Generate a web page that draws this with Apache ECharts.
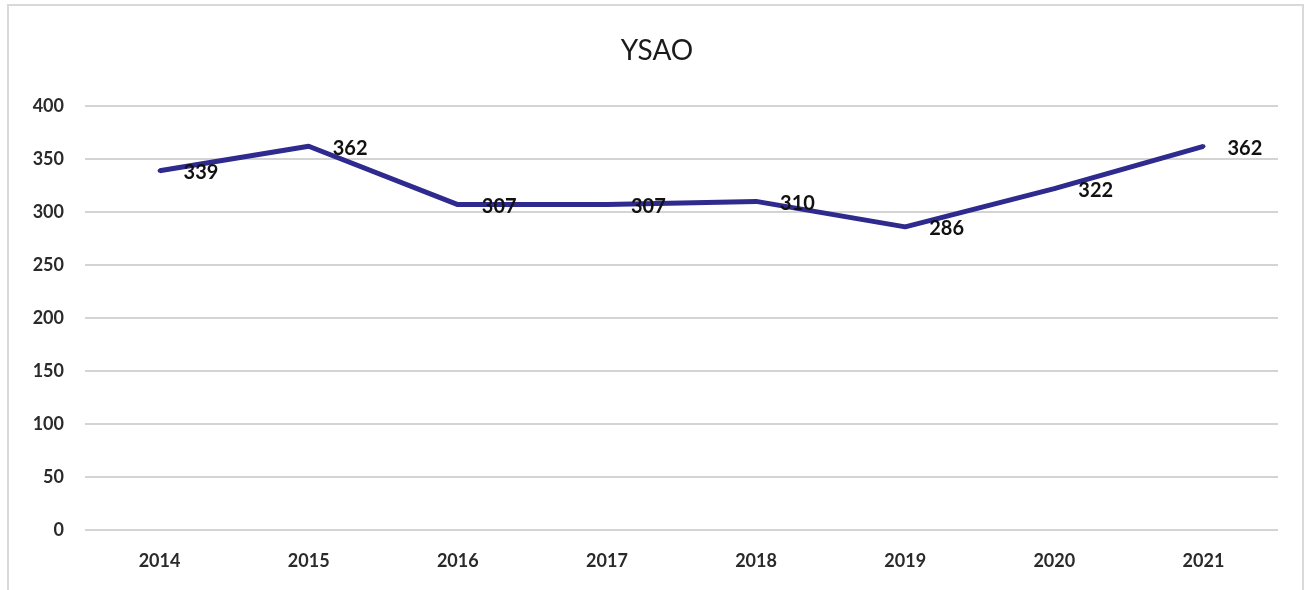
<!DOCTYPE html>
<html>
<head>
<meta charset="utf-8">
<script src="https://cdn.jsdelivr.net/npm/echarts@6/dist/echarts.min.js"></script>
<style>
    html, body { margin: 0; padding: 0; background: #fff; overflow: hidden; }
    #frame {
        position: absolute; left: 7px; top: 4px; width: 1297px; height: 600px;
        border: 2px solid #d9d9d9; box-sizing: border-box;
    }
    #chart { position: absolute; left: 0; top: 0; width: 1314px; height: 590px; }
</style>
</head>
<body>
<div id="frame"></div>
<div id="chart"></div>
<script>
// Chart data
const years = ['2014', '2015', '2016', '2017', '2018', '2019', '2020', '2021'];
const ysaoValues = [339, 362, 307, 307, 310, 286, 322, 362];
const chartTitle = 'YSAO';

document.addEventListener('DOMContentLoaded', function() {
    const chart = echarts.init(document.getElementById('chart'));
    const font = 'Lato, "Open Sans", sans-serif';

    const option = {
        animation: false,
        title: {
            text: chartTitle,
            left: 'center',
            top: 32,
            textStyle: { fontFamily: font, fontSize: 28, fontWeight: 'normal', color: '#1a1a1a' }
        },
        grid: { left: 85, right: 36, top: 106, bottom: 60 },
        xAxis: {
            type: 'category',
            data: years,
            boundaryGap: true,
            axisLine: { show: false },
            axisTick: { show: false },
            axisLabel: { fontFamily: font, fontSize: 18, fontWeight: 'bold', color: '#2a2a2a', margin: 22 }
        },
        yAxis: {
            type: 'value',
            min: 0,
            max: 400,
            interval: 50,
            axisLine: { show: false },
            axisTick: { show: false },
            axisLabel: { fontFamily: font, fontSize: 18, fontWeight: 'bold', color: '#2a2a2a', margin: 21 },
            splitLine: { lineStyle: { color: '#d4d4d4', width: 2 } }
        },
        series: [{
            type: 'line',
            data: ysaoValues,
            symbol: 'circle',
            symbolSize: 4,
            showSymbol: true,
            itemStyle: { color: '#2f2a8e' },
            lineStyle: { color: '#2f2a8e', width: 5 },
            label: {
                show: true,
                position: 'right',
                distance: 22,
                offset: [0, 2],
                fontFamily: font,
                fontSize: 20,
                fontWeight: 'bold',
                color: '#111'
            }
        }]
    };
    chart.setOption(option);
});
</script>
</body>
</html>
